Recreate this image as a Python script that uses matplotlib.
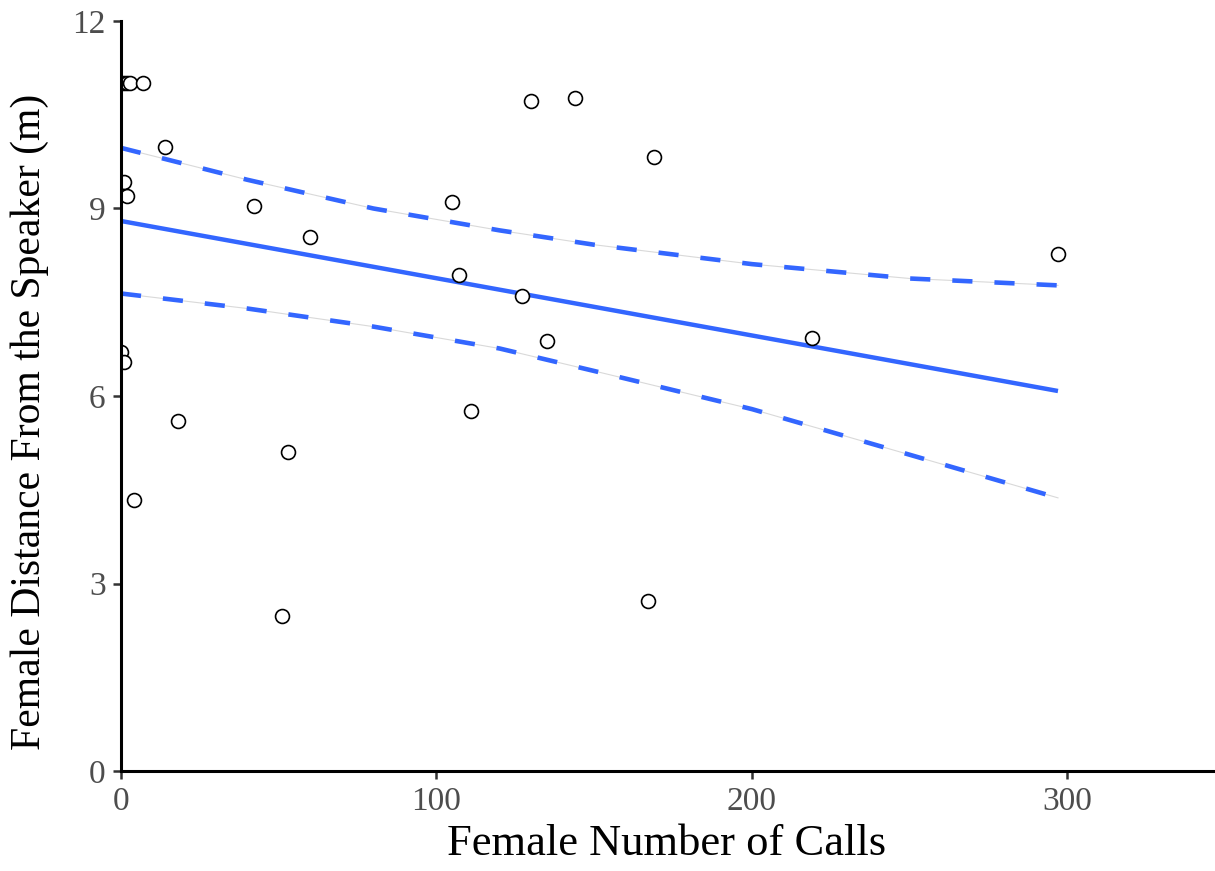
import numpy as np
import matplotlib.pyplot as plt

plt.rcParams['font.family'] = ['Liberation Serif', 'DejaVu Serif']

# observed points: female number of calls vs distance from speaker (m)
calls = [0, 1, 2, 3, 7, 14, 1, 2, 42, 60, 0, 1, 18, 4, 53, 51,
         105, 107, 111, 127, 130, 135, 144, 167, 169, 219, 297]
distance = [11.0, 11.0, 11.0, 11.0, 11.0, 9.98, 9.43, 9.2, 9.04, 8.54, 6.71, 6.54, 5.6, 4.33, 5.1, 2.48,
            9.1, 7.94, 5.76, 7.6, 10.72, 6.88, 10.77, 2.72, 9.82, 6.93, 8.27]

# fitted line and confidence limits
fit_x = [0, 297]
fit_y = [8.8, 6.08]
band_x = [0, 40, 80, 120, 150, 200, 250, 297]
upper_y = [9.97, 9.46, 9.0, 8.65, 8.42, 8.11, 7.88, 7.77]
lower_y = [7.64, 7.40, 7.11, 6.76, 6.40, 5.79, 5.06, 4.37]

blue = '#3366FF'

fig = plt.figure(figsize=(12.15, 8.71), dpi=100)
ax = fig.add_axes([0.0996, 0.1148, 0.8984, 0.8611])

for band in (upper_y, lower_y):
    ax.plot(band_x, band, color='#d9d9d9', lw=0.8, zorder=1)
    ax.plot(band_x, band, color=blue, lw=3.3, dashes=(4.4, 4.8), zorder=2)
ax.plot(fit_x, fit_y, color=blue, lw=3.2, zorder=2, solid_capstyle='butt')

ax.plot(calls, distance, 'o', mfc='white', mec='black', mew=1.2, ms=10, zorder=3)

ax.set_xlim(0, 346)
ax.set_ylim(0, 12)
ax.set_xticks([0, 100, 200, 300])
ax.set_yticks([0, 3, 6, 9, 12])

for s in ['top', 'right']:
    ax.spines[s].set_visible(False)
for s in ['left', 'bottom']:
    ax.spines[s].set_linewidth(2.2)
    ax.spines[s].set_color('black')
    ax.spines[s].set_zorder(4)
ax.tick_params(length=6, width=1.8, color='#333333', labelsize=24, labelcolor='#4d4d4d', pad=5)

ax.set_xlabel('Female Number of Calls', fontsize=32, labelpad=5)
ax.set_ylabel('Female Distance From the Speaker (m)', fontsize=30)
ax.yaxis.set_label_coords(-0.066, 0.465)

fig.savefig('out.png', dpi=100)
